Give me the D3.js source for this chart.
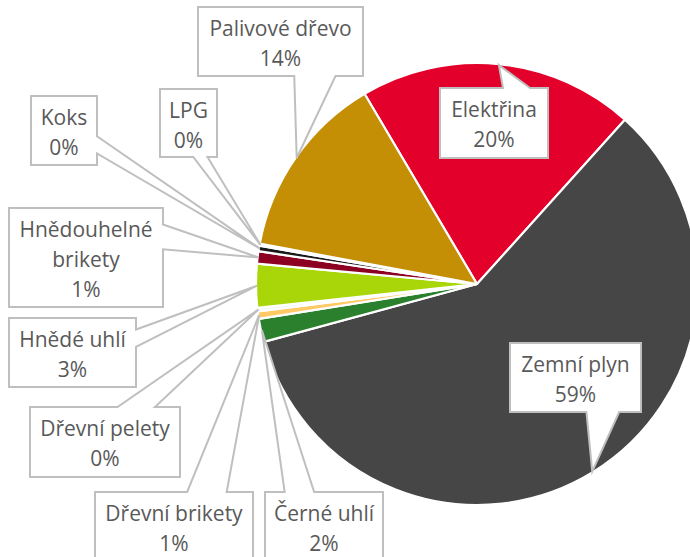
<!DOCTYPE html>
<html>
<head>
<meta charset="utf-8">
<script src="https://cdn.jsdelivr.net/npm/d3@7"></script>
<style>
  html, body { margin: 0; padding: 0; background: #ffffff; }
  svg { display: block; }
</style>
</head>
<body>
<svg id="chart" width="690" height="557"></svg>
<script>
// ---- data (clockwise from the top-left edge of "Elektřina") ----
const categories = ["Elektřina", "Zemní plyn", "Černé uhlí", "Dřevní brikety", "Dřevní pelety",
                    "Hnědé uhlí", "Hnědouhelné brikety", "Koks", "LPG", "Palivové dřevo"];
const shares = [20.2, 59.2, 1.7, 0.55, 0.25, 3.2, 0.9, 0.4, 0.15, 13.6];
const sliceColors = ["#e3002b", "#464646", "#2a802c", "#ffc966", "#f4f4f4",
                     "#a8d608", "#8c0021", "#1a1a1a", "#ececec", "#c48e05"];
// label text lines (category split across lines as in the callouts)
const labelLines = [["Elektřina"], ["Zemní plyn"], ["Černé uhlí"], ["Dřevní brikety"], ["Dřevní pelety"],
                    ["Hnědé uhlí"], ["Hnědouhelné", "brikety"], ["Koks"], ["LPG"], ["Palivové dřevo"]];

// ---- layout (callout boxes: x, y, w, h) ----
const boxes = [
  [440, 88, 108, 70],   // Elektřina
  [510, 343, 131, 69],  // Zemní plyn
  [265, 492, 118, 69],  // Černé uhlí
  [95, 492, 158, 69],   // Dřevní brikety
  [30, 407, 150, 70],   // Dřevní pelety
  [9, 318, 127, 69],    // Hnědé uhlí
  [9, 208, 154, 99],    // Hnědouhelné brikety
  [31, 96, 66, 69],     // Koks
  [160, 89, 57, 68],    // LPG
  [198, 7, 165, 69]     // Palivové dřevo
];

const cx = 477, cy = 284, R = 221;
const startDeg = -30.6;

const svg = d3.select("#chart");
const g = svg.append("g").attr("transform", `translate(${cx},${cy})`);

const total = d3.sum(shares);
const pie = d3.pie().sort(null).value(d => d.v)
  .startAngle(startDeg * Math.PI / 180)
  .endAngle(startDeg * Math.PI / 180 + 2 * Math.PI);
const data = categories.map((c, i) => ({ c, v: shares[i], i }));
const arcs = pie(data);
const arc = d3.arc().innerRadius(0).outerRadius(R);
const tipArc = d3.arc().innerRadius(R - 1).outerRadius(R - 1);

g.selectAll("path.slice").data(arcs).join("path")
  .attr("class", "slice")
  .attr("d", arc)
  .attr("fill", d => sliceColors[d.data.i])
  .attr("stroke", "#ffffff")
  .attr("stroke-width", 2.2)
  .attr("stroke-linejoin", "round");

function calloutPath(x, y, w, h, tx, ty) {
  const hc = x + w / 2, vc = y + h / 2;
  const dx = tx - hc, dy = ty - vc;
  const dq = dx * h / w;
  const dz = Math.abs(dy) - Math.abs(dq);
  const xg1 = tx > hc ? 7 : 2, xg2 = tx > hc ? 10 : 5;
  const yg1 = ty > vc ? 7 : 2, yg2 = ty > vc ? 10 : 5;
  const x1 = x + w * xg1 / 12, x2 = x + w * xg2 / 12;
  const y1 = y + h * yg1 / 12, y2 = y + h * yg2 / 12;
  let side;
  if (dz > 0) side = dy < 0 ? "t" : "b"; else side = dx < 0 ? "l" : "r";
  const p = d3.path();
  p.moveTo(x, y);
  if (side === "t") { p.lineTo(x1, y); p.lineTo(tx, ty); p.lineTo(x2, y); }
  p.lineTo(x + w, y);
  if (side === "r") { p.lineTo(x + w, y1); p.lineTo(tx, ty); p.lineTo(x + w, y2); }
  p.lineTo(x + w, y + h);
  if (side === "b") { p.lineTo(x2, y + h); p.lineTo(tx, ty); p.lineTo(x1, y + h); }
  p.lineTo(x, y + h);
  if (side === "l") { p.lineTo(x, y2); p.lineTo(tx, ty); p.lineTo(x, y1); }
  p.closePath();
  return p.toString();
}

const fmt = v => Math.round(v / total * 100) + "%";

const labels = svg.append("g").selectAll("g.lab").data(arcs).join("g").attr("class", "lab");
labels.append("path")
  .attr("d", d => {
    const [bx, by, bw, bh] = boxes[d.data.i];
    const [tx, ty] = tipArc.centroid(d);
    return calloutPath(bx, by, bw, bh, tx + cx, ty + cy);
  })
  .attr("fill", "#ffffff")
  .attr("stroke", "#bfbfbf")
  .attr("stroke-width", 2)
  .attr("stroke-linejoin", "miter");

labels.each(function (d) {
  const [bx, by, bw] = boxes[d.data.i];
  const lines = labelLines[d.data.i].concat([fmt(d.data.v)]);
  const t = d3.select(this).append("text")
    .attr("text-anchor", "middle")
    .attr("font-family", "'Open Sans', sans-serif")
    .attr("font-size", 21)
    .attr("fill", "#595959");
  lines.forEach((s, k) => {
    t.append("tspan").attr("x", bx + bw / 2).attr("y", by + 28.5 + k * 30).text(s);
  });
});
</script>
</body>
</html>
